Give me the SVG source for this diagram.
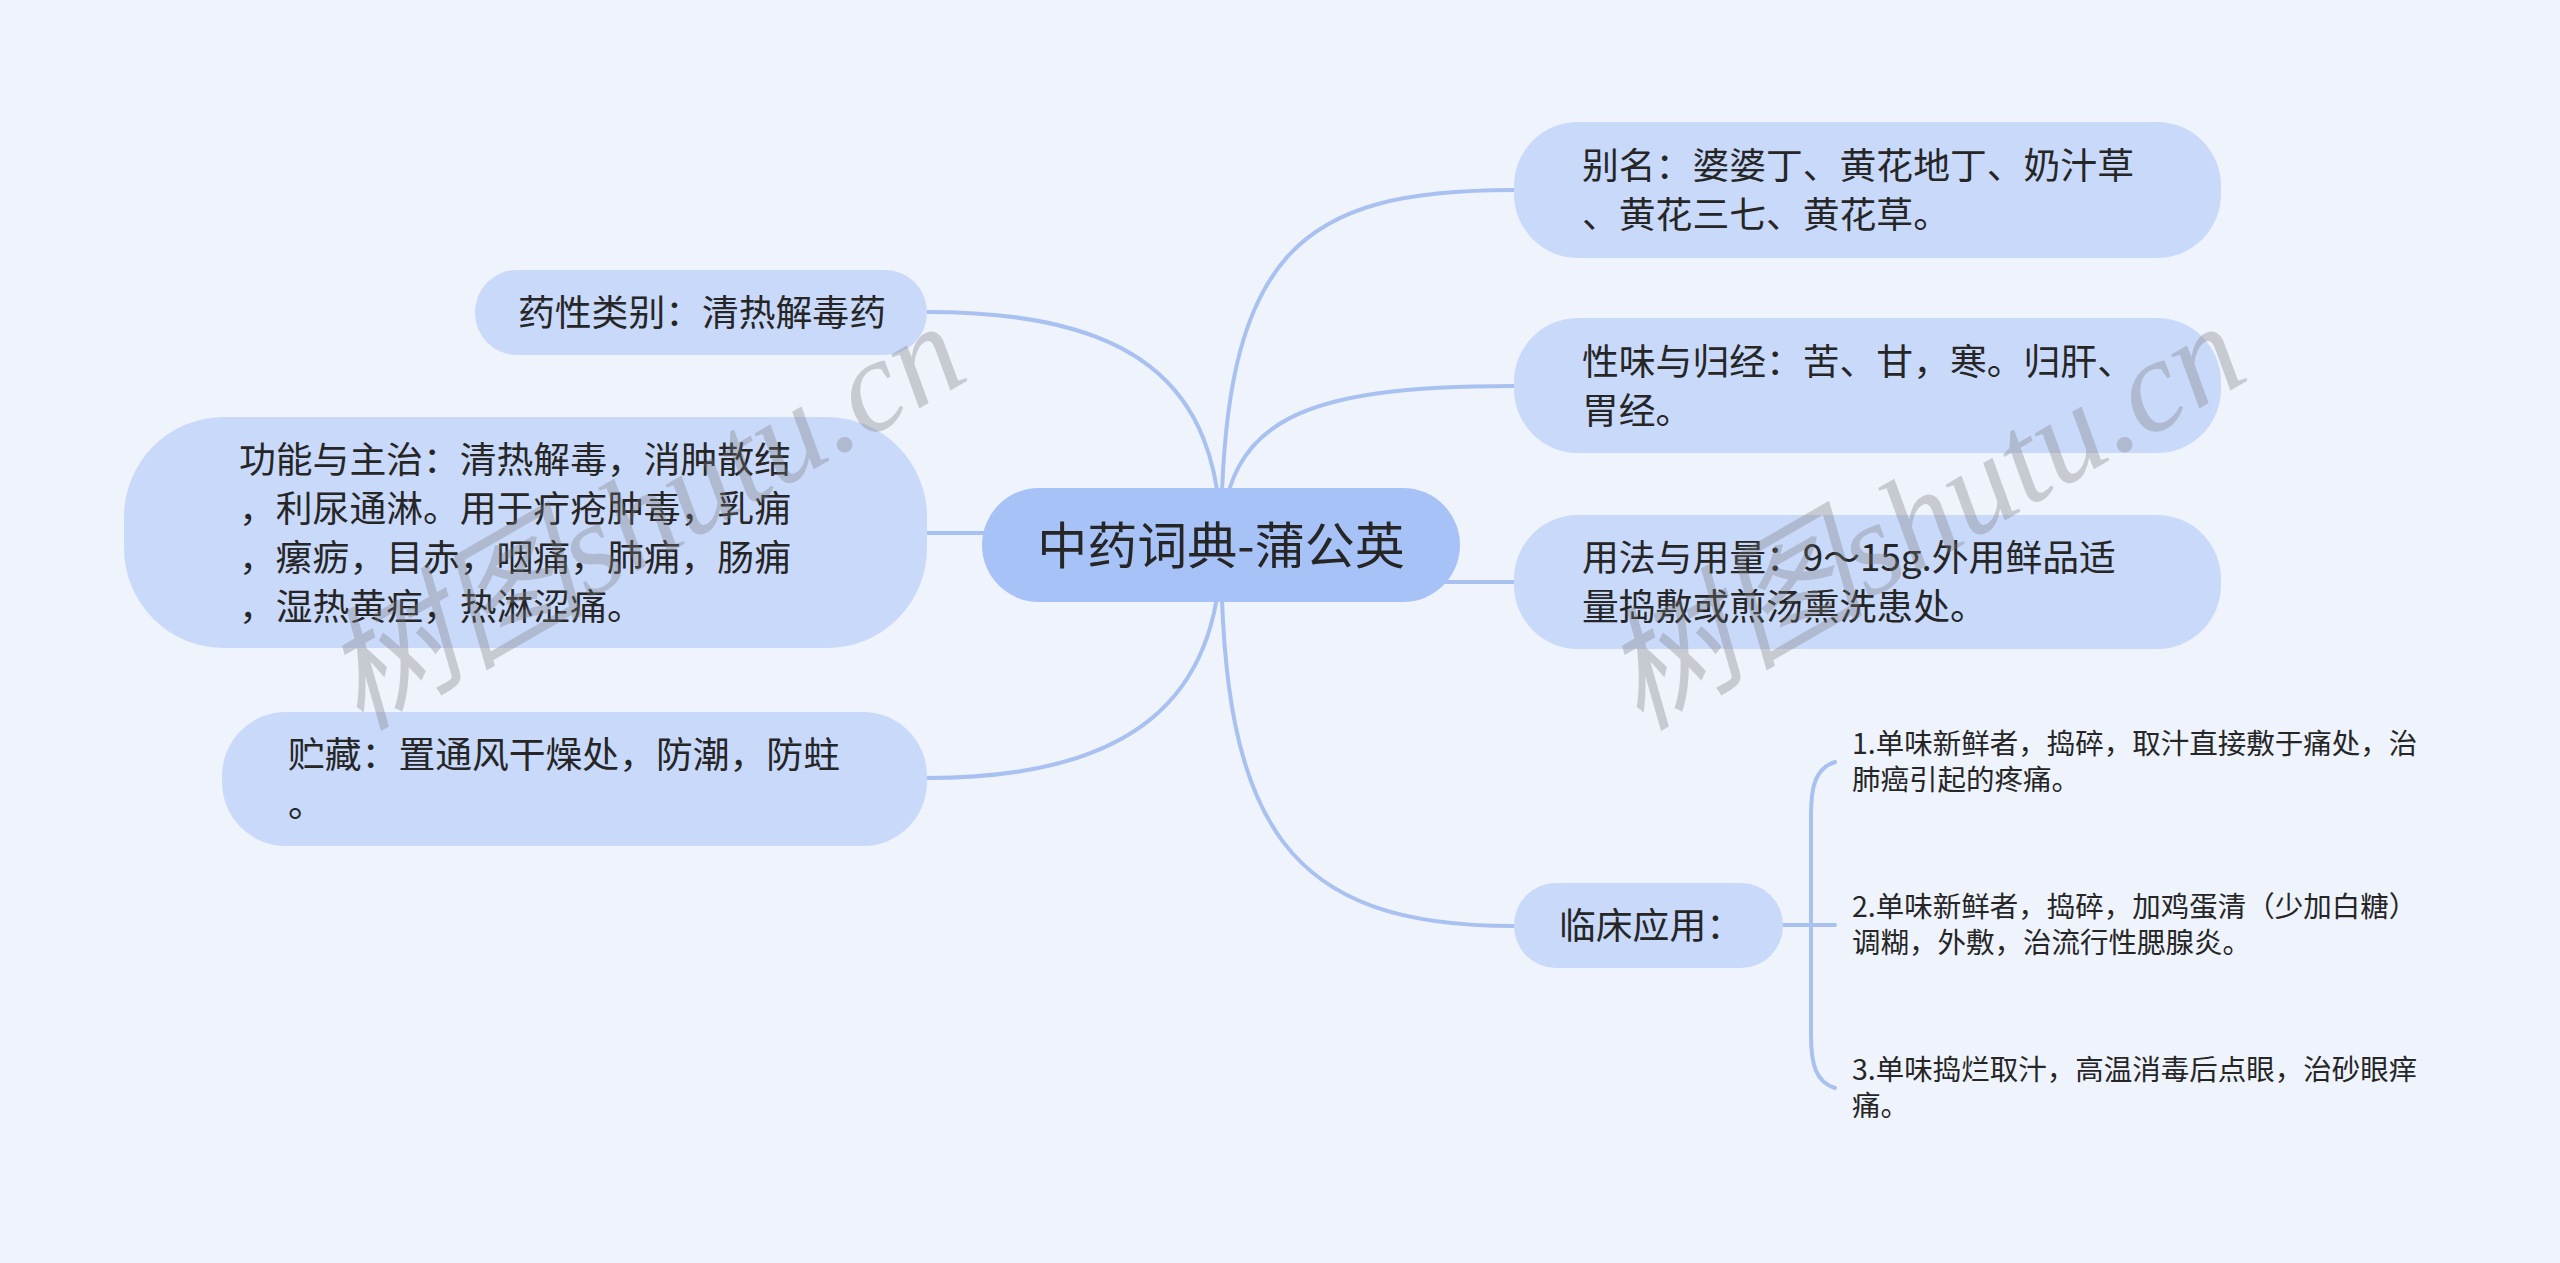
<svg xmlns="http://www.w3.org/2000/svg" width="2560" height="1263" viewBox="0 0 2560 1263">
<style>
.bg{fill:#eef3fc}
.node{fill:#c9d9fa}
.root{fill:#a7c2f7}
.t{font-family:"Noto Sans CJK SC","Noto Sans",sans-serif;fill:#262626}
.main{font-size:36.8px}
.sub{font-size:28.5px}
.rt{font-size:50px}
.edge{fill:none;stroke:#a9c1f1;stroke-width:4;stroke-linecap:round}
.wm{font-family:"Liberation Serif","Noto Sans CJK SC",serif;font-style:italic;font-size:132px;fill:#7a7a7a;fill-opacity:0.33}
</style>
<rect class="bg" x="0" y="0" width="2560" height="1263"/>
<g id="connectors">
<path class="edge" d="M1221 545 C1221 250 1300 190 1514 190"/>
<path class="edge" d="M1221 545 C1225 420 1300 386 1514 386"/>
<path class="edge" d="M1440 582 L1514 582"/>
<path class="edge" d="M1221 545 C1221 830 1290 926 1514 926"/>
<path class="edge" d="M1221 545 C1221 380 1130 312 927 312"/>
<path class="edge" d="M990 533 L927 533"/>
<path class="edge" d="M1221 545 C1221 700 1130 778 927 778"/>
<path class="edge" d="M1783 925 L1835 925"/>
<path class="edge" d="M1835 762 C1816 768 1811 785 1811 815 L1811 1035 C1811 1065 1816 1082 1835 1088"/>
</g>
<g id="root">
<rect class="root" x="982" y="488" width="478" height="114" rx="57"/>
<text class="t rt" x="1221" y="564" text-anchor="middle">中药词典-蒲公英</text>
</g>
<g id="n-bieming">
<rect class="node" x="1514" y="122" width="707" height="136" rx="64"/>
<text class="t main" x="1582" y="179">别名：婆婆丁、黄花地丁、奶汁草</text>
<text class="t main" x="1582" y="228">、黄花三七、黄花草。</text>
</g>
<g id="n-xingwei">
<rect class="node" x="1514" y="318" width="707" height="135" rx="64"/>
<text class="t main" x="1582" y="375">性味与归经：苦、甘，寒。归肝、</text>
<text class="t main" x="1582" y="424">胃经。</text>
</g>
<g id="n-yongfa">
<rect class="node" x="1514" y="515" width="707" height="134" rx="64"/>
<text class="t main" x="1582" y="571">用法与用量：9～15g.外用鲜品适</text>
<text class="t main" x="1582" y="620">量捣敷或煎汤熏洗患处。</text>
</g>
<g id="n-linchuang">
<rect class="node" x="1514" y="883" width="269" height="85" rx="42"/>
<text class="t main" x="1559" y="939">临床应用：</text>
</g>
<g id="n-item1">
<text class="t sub" x="1852" y="754">1.单味新鲜者，捣碎，取汁直接敷于痛处，治</text>
<text class="t sub" x="1852" y="790">肺癌引起的疼痛。</text>
</g>
<g id="n-item2">
<text class="t sub" x="1852" y="917">2.单味新鲜者，捣碎，加鸡蛋清（少加白糖）</text>
<text class="t sub" x="1852" y="953">调糊，外敷，治流行性腮腺炎。</text>
</g>
<g id="n-item3">
<text class="t sub" x="1852" y="1080">3.单味捣烂取汁，高温消毒后点眼，治砂眼痒</text>
<text class="t sub" x="1852" y="1116">痛。</text>
</g>
<g id="n-yaoxing">
<rect class="node" x="475" y="270" width="452" height="85" rx="42"/>
<text class="t main" x="518" y="326">药性类别：清热解毒药</text>
</g>
<g id="n-gongneng">
<rect class="node" x="124" y="417" width="803" height="231" rx="100"/>
<text class="t main" x="239" y="473">功能与主治：清热解毒，消肿散结</text>
<text class="t main" x="239" y="522">，利尿通淋。用于疔疮肿毒，乳痈</text>
<text class="t main" x="239" y="571">，瘰疬，目赤，咽痛，肺痈，肠痈</text>
<text class="t main" x="239" y="620">，湿热黄疸，热淋涩痛。</text>
</g>
<g id="n-zhucang">
<rect class="node" x="222" y="712" width="705" height="134" rx="64"/>
<text class="t main" x="288" y="768">贮藏：置通风干燥处，防潮，防蛀</text>
<text class="t main" x="288" y="817">。</text>
</g>
<g id="watermarks">
<text class="wm" x="646" y="560" text-anchor="middle" transform="rotate(-30 646 520)">树图shutu.cn</text>
<text class="wm" x="1926" y="560" text-anchor="middle" transform="rotate(-30 1926 520)">树图shutu.cn</text>
</g>
</svg>
